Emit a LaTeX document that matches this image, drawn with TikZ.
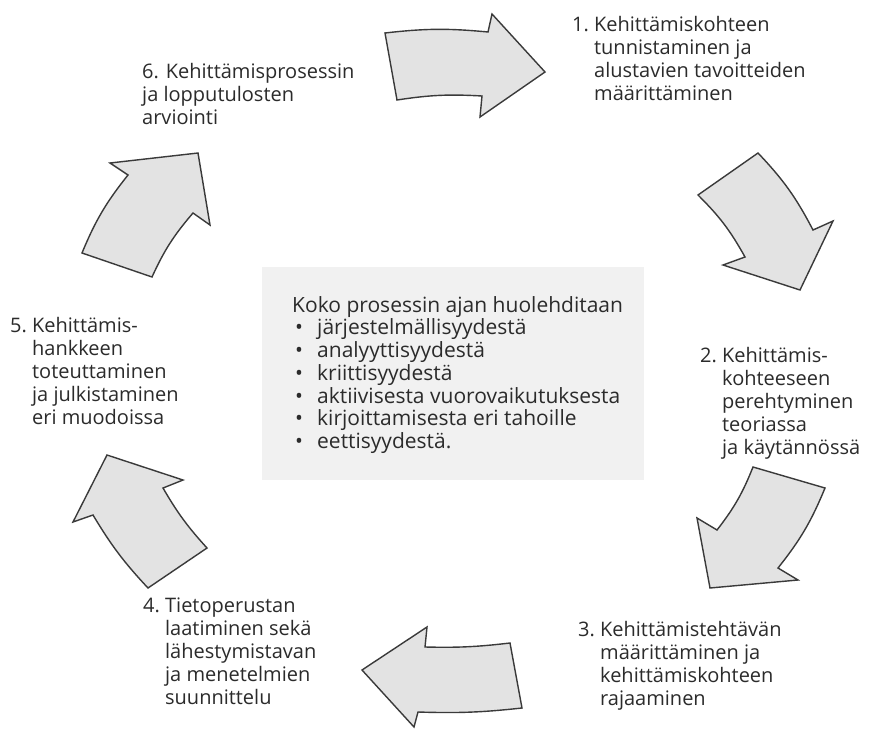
\documentclass[tikz,border=0pt]{standalone}
\usepackage{fontspec}
\setmainfont{Open Sans}
\definecolor{arrowfill}{HTML}{E3E3E3}
\definecolor{arrowline}{HTML}{3A3A3A}
\definecolor{boxfill}{HTML}{F1F1F1}
\definecolor{ink}{HTML}{2B2B2B}
\tikzset{
  cyc/.style={fill=arrowfill, draw=arrowline, line width=1.4pt, line join=miter},
  lbl/.style={anchor=base west, inner sep=0pt, text=ink, font=\fontsize{20}{23}\selectfont},
  boxtxt/.style={anchor=base west, inner sep=0pt, text=ink, font=\fontsize{21}{22.7}\selectfont}
}
\newcommand{\hang}[2]{\begin{tabular}[t]{@{}l@{\ }l@{}}#1 & #2\end{tabular}}
\newcommand{\blt}{\makebox[22pt][l]{•}}
\begin{document}
\begin{tikzpicture}[x=1pt,y=-1pt]
\useasboundingbox (0,0) rectangle (881,729);
\fill[white] (0,0) rectangle (881,729);
% central box
\fill[boxfill] (262,267) rectangle (644,480);
% arrows
\draw[cyc] (385,33) to[bend left=6] (488,32) -- (492,14) -- (545,72) -- (480,117) -- (482,96) to[bend right=6] (397,100) -- cycle;
\draw[cyc] (758,153) to[bend left=8] (813,230) -- (833,221) -- (800,290) -- (723,265) -- (745,257) to[bend right=8] (698,195) -- cycle;
\draw[cyc] (825,488) to[bend left=8] (778,568) -- (798,580) -- (710,588) -- (697,518) -- (717,530) to[bend right=8] (753,467) -- cycle;
\draw[cyc] (522,708) to[bend left=4] (418,712) -- (414,727) -- (362,670) -- (427,627) -- (425,647) to[bend right=4] (510,643) -- cycle;
\draw[cyc] (148,588) to[bend left=6] (93,515) -- (73,522) -- (107,455) -- (183,480) -- (163,488) to[bend right=6] (207,548) -- cycle;
\draw[cyc] (82,253) to[bend left=8] (128,175) -- (110,163) -- (198,153) -- (210,225) -- (193,213) to[bend right=8] (152,277) -- cycle;
% labels
\node[lbl] (s1) at (572,31) {\hang{1.}{Kehittämiskohteen\\&tunnistaminen ja\\&alustavien tavoitteiden\\&määrittäminen}};
\node[lbl] (s2) at (700,362) {\hang{2.}{Kehittämis-\\&kohteeseen\\&perehtyminen\\&teoriassa\\&ja käytännössä}};
\node[lbl] (s3) at (578,636) {\hang{3.}{Kehittämistehtävän\\&määrittäminen ja\\&kehittämiskohteen\\&rajaaminen}};
\node[lbl] (s4) at (143,612) {\hang{4.}{Tietoperustan\\&laatiminen sekä\\&lähestymistavan\\&ja menetelmien\\&suunnittelu}};
\node[lbl] (s5) at (10,332) {\hang{5.}{Kehittämis-\\&hankkeen\\&toteuttaminen\\&ja julkistaminen\\&eri muodoissa}};
\node[lbl] (s6) at (142,78) {\begin{tabular}[t]{@{}l@{}}6. Kehittämisprosessin\\ja lopputulosten\\arviointi\end{tabular}};
\node[boxtxt] (center) at (292,312) {\begin{tabular}[t]{@{}l@{}}Koko prosessin ajan huolehditaan\\
\hspace*{3pt}\blt järjestelmällisyydestä\\
\hspace*{3pt}\blt analyyttisyydestä\\
\hspace*{3pt}\blt kriittisyydestä\\
\hspace*{3pt}\blt aktiivisesta vuorovaikutuksesta\\
\hspace*{3pt}\blt kirjoittamisesta eri tahoille\\
\hspace*{3pt}\blt eettisyydestä.\end{tabular}};
\end{tikzpicture}
\end{document}
